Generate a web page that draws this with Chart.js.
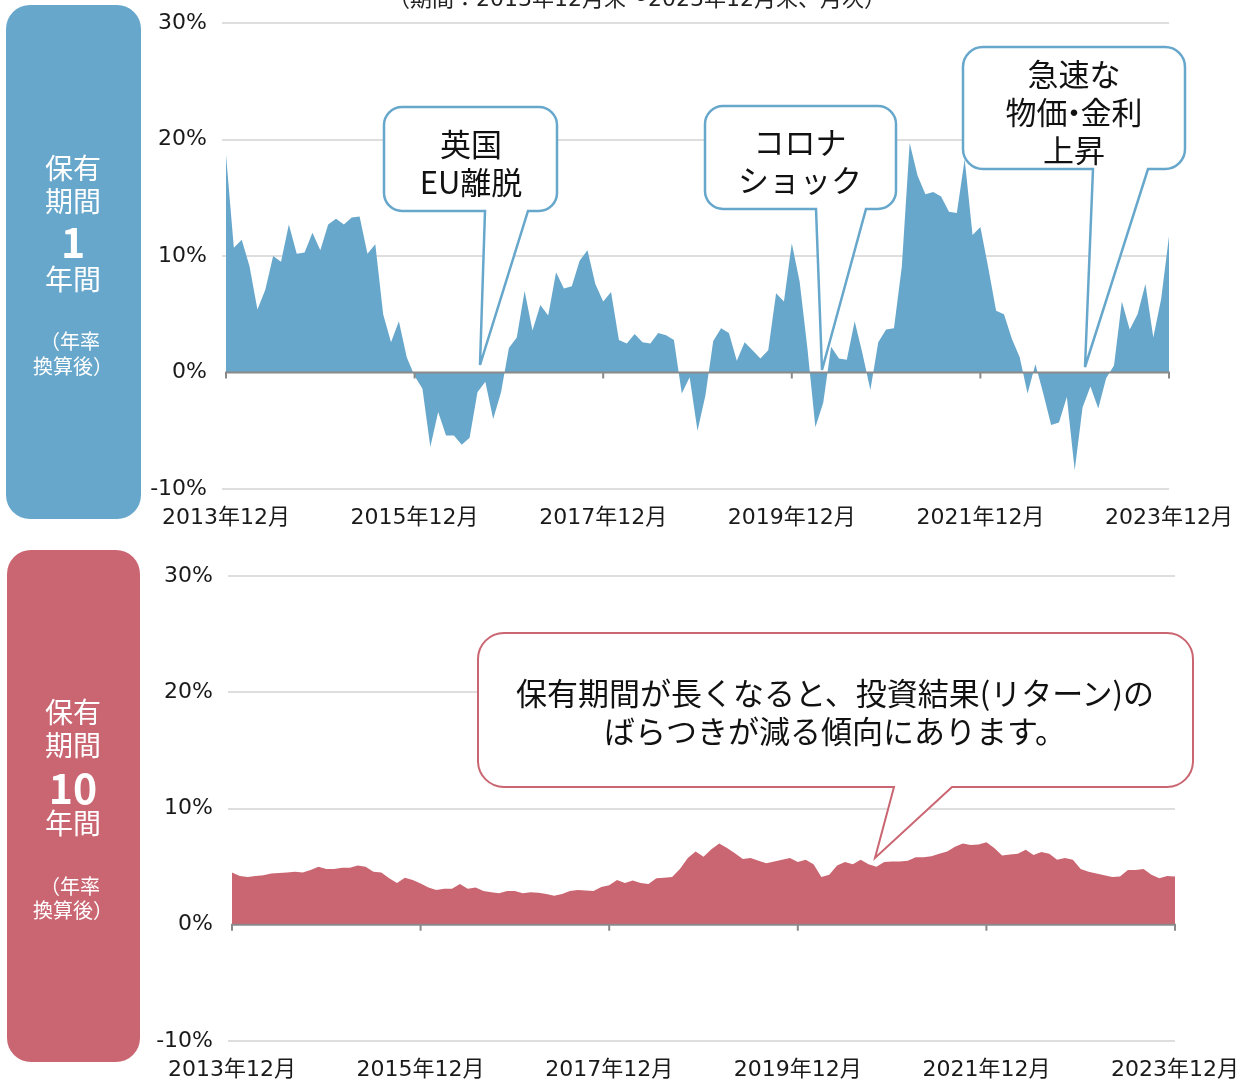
<!DOCTYPE html>
<html><head><meta charset="utf-8">
<script src="https://cdn.jsdelivr.net/npm/chart.js@4"></script>
<style>
html,body{margin:0;padding:0;}
body{width:1250px;height:1082px;position:relative;overflow:hidden;background:#fff;font-family:"Noto Sans CJK JP","Noto Sans",sans-serif;color:#111;}
canvas{position:absolute;left:0;}
.side{position:absolute;border-radius:24px;}
.c{position:absolute;transform:translate(-50%,-50%);white-space:nowrap;text-align:center;line-height:1;}
.w{color:#fff;}
.bt{font-size:31px;line-height:38px;color:#111;}
svg{position:absolute;left:0;top:0;pointer-events:none;}
</style></head><body>
<div class="side" style="left:6px;top:5px;width:135px;height:514px;background:#67a7cb"></div>
<div class="side" style="left:7px;top:550px;width:133px;height:512px;background:#ca6672"></div>
<canvas id="c1" width="1250" height="545" style="top:0"></canvas>
<canvas id="c2" width="1250" height="537" style="top:545px"></canvas>
<svg width="1250" height="1082" id="ov"></svg>

<div class="c" style="left:637px;top:-1px;font-size:22px;color:#222;font-family:'DejaVu Sans','Noto Sans CJK JP',sans-serif">（期間：2013年12月末～2023年12月末、月次）</div>

<div class="c w" style="left:73px;top:167px;font-size:28px">保有</div>
<div class="c w" style="left:73px;top:200px;font-size:28px">期間</div>
<div class="c w" style="left:73px;top:240px;font-size:41px;font-weight:bold">1</div>
<div class="c w" style="left:73px;top:278px;font-size:28px">年間</div>
<div class="c w" style="left:70px;top:341px;font-size:20px">（年率</div>
<div class="c w" style="left:73px;top:366px;font-size:20px">換算後）</div>

<div class="c w" style="left:73px;top:711px;font-size:28px">保有</div>
<div class="c w" style="left:73px;top:744px;font-size:28px">期間</div>
<div class="c w" style="left:73px;top:786px;font-size:41px;font-weight:bold">10</div>
<div class="c w" style="left:73px;top:822px;font-size:28px">年間</div>
<div class="c w" style="left:70px;top:886px;font-size:20px">（年率</div>
<div class="c w" style="left:73px;top:910px;font-size:20px">換算後）</div>

<div class="c bt" style="left:471px;top:162px">英国<br>EU離脱</div>
<div class="c bt" style="left:800px;top:160px">コロナ<br>ショック</div>
<div class="c bt" style="left:1074px;top:111px">急速な<br>物価<span style="margin:0 -9px">・</span>金利<br>上昇</div>
<div class="c bt" style="left:835px;top:711px">保有期間が長くなると、投資結果(リターン)の<br>ばらつきが減る傾向にあります。</div>

<script>
// ---- data ----
const startYear = 2013, startMonth = 12, monthCount = 121;
const xTickLabels = ['2013年12月','2015年12月','2017年12月','2019年12月','2021年12月','2023年12月'];
const yTickValues = [-10, 0, 10, 20, 30];
const oneYear = [18.7,10.7,11.4,9.1,5.4,7.1,10.0,9.5,12.7,10.2,10.3,12.0,10.5,12.7,13.2,12.7,13.3,13.4,10.2,11.0,
  5.0,2.6,4.4,1.3,-0.3,-1.4,-6.4,-3.4,-5.4,-5.4,-6.2,-5.6,-1.7,-0.8,-4.0,-1.7,2.1,3.0,7.0,3.6,
  5.8,4.9,8.6,7.2,7.4,9.6,10.5,7.6,6.1,6.9,2.8,2.5,3.3,2.6,2.5,3.4,3.2,2.8,-1.8,-0.4,
  -5.0,-2.0,2.7,3.8,3.4,1.0,2.6,1.9,1.2,1.9,6.8,6.1,11.1,7.8,2.0,-4.7,-2.6,2.2,1.2,1.1,
  4.4,1.6,-1.5,2.6,3.7,3.8,9.1,19.7,16.9,15.3,15.5,15.1,13.8,13.7,18.3,11.8,12.5,9.0,5.3,5.0,
  2.9,1.3,-1.8,0.7,-1.8,-4.5,-4.3,-2.1,-8.4,-3.0,-1.2,-3.1,-0.5,0.6,6.1,3.7,5.0,7.6,3.0,6.3,11.7];
const tenYear = [4.5,4.2,4.1,4.2,4.25,4.4,4.45,4.5,4.55,4.5,4.7,5.0,4.8,4.8,4.9,4.9,5.1,5.0,4.55,4.5,
  4.0,3.6,4.05,3.85,3.55,3.2,3.0,3.1,3.1,3.5,3.1,3.2,2.9,2.8,2.7,2.9,2.9,2.7,2.8,2.75,
  2.65,2.5,2.65,2.9,3.0,2.95,2.9,3.25,3.4,3.85,3.6,3.8,3.6,3.5,4.0,4.05,4.1,4.8,5.75,6.3,
  5.85,6.5,7.0,6.6,6.15,5.65,5.75,5.5,5.3,5.45,5.6,5.75,5.4,5.6,5.2,4.1,4.3,5.1,5.4,5.2,
  5.6,5.2,5.0,5.4,5.45,5.45,5.5,5.8,5.8,5.9,6.1,6.3,6.7,7.0,6.85,6.9,7.1,6.6,5.95,6.05,
  6.1,6.45,6.0,6.25,6.1,5.6,5.75,5.6,4.8,4.55,4.4,4.25,4.1,4.15,4.7,4.7,4.8,4.3,4.0,4.2,4.15];

const labels = [];
for (let k = 0; k < monthCount; k++) {
  const m = (startMonth - 1 + k) % 12 + 1;
  const yv = startYear + Math.floor((startMonth - 1 + k) / 12);
  labels.push(yv + '年' + m + '月');
}

const FONT = '"DejaVu Sans","Noto Sans CJK JP",sans-serif';

const baseline = {
  id: 'baseline',
  afterDatasetsDraw(chart) {
    const {ctx, chartArea, scales} = chart;
    const y0 = scales.y.getPixelForValue(0);
    ctx.save();
    ctx.strokeStyle = '#8a8a8a';
    ctx.lineWidth = 2;
    ctx.beginPath();
    ctx.moveTo(chartArea.left - 1, y0);
    ctx.lineTo(chartArea.right + 1, y0);
    for (let i = 0; i < labels.length; i += 24) {
      const px = scales.x.getPixelForValue(i);
      ctx.moveTo(px, y0);
      ctx.lineTo(px, y0 + 6);
    }
    ctx.stroke();
    ctx.restore();
  }
};

function makeChart(id, data, color, yWidth, padRight, padTop, xHeight) {
  return new Chart(document.getElementById(id), {
    type: 'line',
    data: {labels, datasets: [{data, fill: 'origin', backgroundColor: color, borderColor: color,
      borderWidth: 0, pointRadius: 0, tension: 0}]},
    options: {
      responsive: false, animation: false,
      layout: {padding: {left: 0, right: padRight, top: padTop, bottom: 0}},
      plugins: {legend: {display: false}, tooltip: {enabled: false}},
      scales: {
        x: {
          grid: {display: false}, border: {display: false},
          ticks: {autoSkip: false, maxRotation: 0, padding: 8, color: '#1a1a1a',
            font: {size: 22, family: FONT},
            callback: (v, i) => (i % 24 === 0 ? xTickLabels[i / 24] : null)},
          afterFit: s => { s.height = xHeight; s.paddingLeft = 0; s.paddingRight = 0; }
        },
        y: {
          min: yTickValues[0], max: yTickValues[yTickValues.length - 1],
          afterBuildTicks: s => { s.ticks = yTickValues.map(v => ({value: v})); },
          ticks: {padding: 15, color: '#1a1a1a', font: {size: 22, family: FONT}, callback: v => v + '%'},
          grid: {color: c => (c.tick && c.tick.value === 0 ? 'rgba(0,0,0,0)' : '#dedede'), lineWidth: 2, tickLength: 4},
          border: {display: false},
          afterFit: s => { s.width = yWidth; s.paddingTop = 0; s.paddingBottom = 0; }
        }
      }
    },
    plugins: [baseline]
  });
}

makeChart('c1', oneYear, '#67a7cb', 226, 81, 23, 56);
makeChart('c2', tenYear, '#ca6672', 232, 75, 31, 41);

// ---- callout bubbles ----
function bubble(x0, y0, x1, y1, r, bl, br, tx, ty) {
  return `M${x0 + r},${y0} H${x1 - r} A${r},${r} 0 0 1 ${x1},${y0 + r} V${y1 - r} A${r},${r} 0 0 1 ${x1 - r},${y1} ` +
    `H${br} L${tx},${ty} L${bl},${y1} H${x0 + r} A${r},${r} 0 0 1 ${x0},${y1 - r} V${y0 + r} A${r},${r} 0 0 1 ${x0 + r},${y0} Z`;
}
const ov = document.getElementById('ov');
const shapes = [
  [bubble(384, 107, 557, 211, 18, 485, 528, 480, 365), '#67a7cb', 2.5],
  [bubble(705, 106, 896, 209, 18, 816, 866, 822, 370), '#67a7cb', 2.5],
  [bubble(963, 47, 1185, 169, 20, 1093, 1148, 1085, 367), '#67a7cb', 2.5],
  [bubble(478, 633, 1193, 787, 26, 894, 952, 875, 858), '#ca6672', 2]
];
ov.innerHTML = shapes.map(s => `<path d="${s[0]}" fill="#fff" stroke="${s[1]}" stroke-width="${s[2]}" stroke-linejoin="miter"/>`).join('');
</script>
</body></html>
